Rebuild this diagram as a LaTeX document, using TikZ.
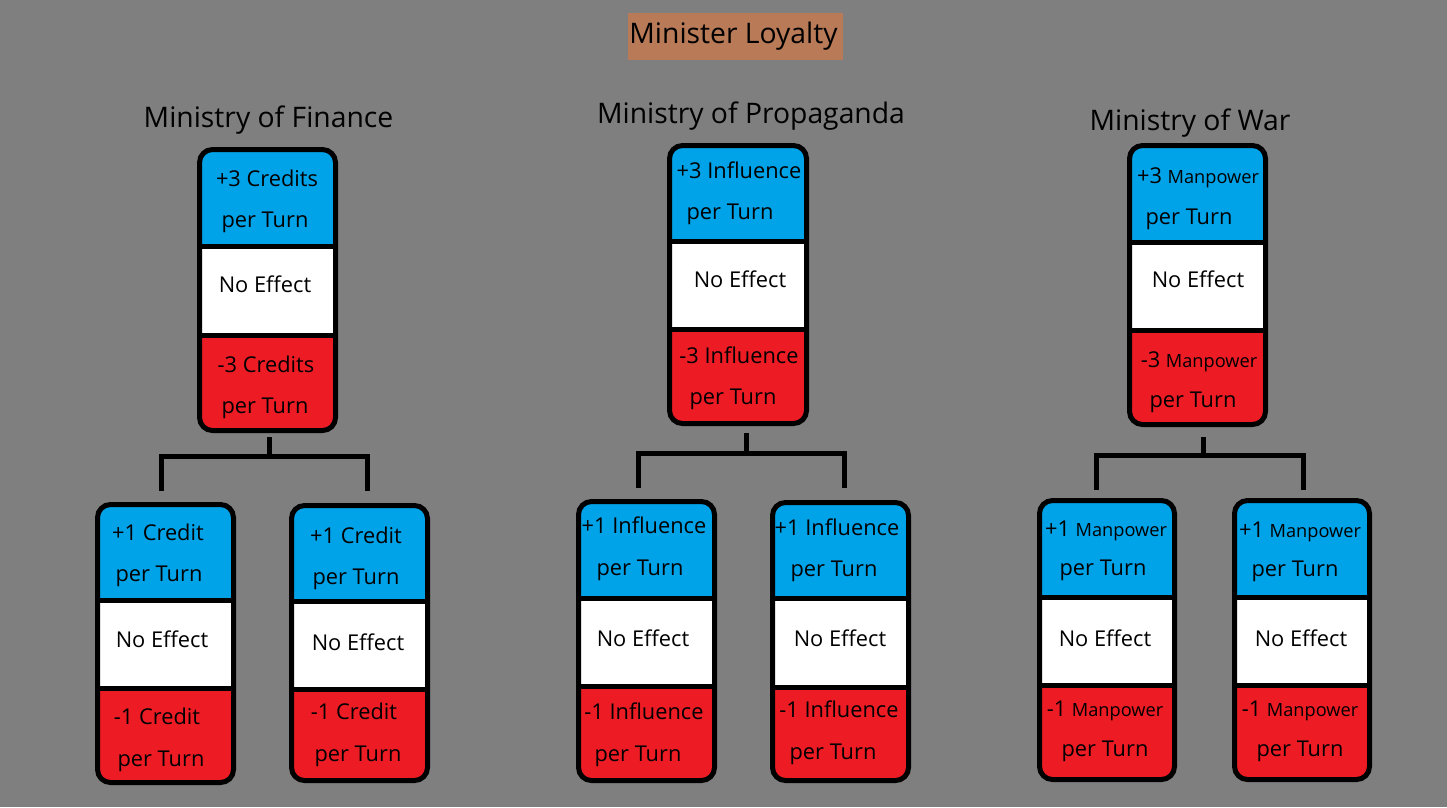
\documentclass[tikz,border=0pt]{standalone}
\usepackage{fontspec}
\setmainfont{Open Sans}
\definecolor{bg}{RGB}{127,127,127}
\definecolor{cblue}{RGB}{0,162,232}
\definecolor{cred}{RGB}{237,28,36}
\definecolor{tbrown}{RGB}{185,122,87}
\newcounter{lnno}
\newcommand\tx[3]{\stepcounter{lnno}\node[txt] (t\arabic{lnno}) at (#1,#2+8) {#3};}
\newcommand\mpw{\fontsize{18.2}{22}\selectfont Manpower}
% \card{name}{x1}{y1}{x2}{y2}{d1}{d2}
\newcommand\card[7]{%
  \begin{scope}
    \clip[rounded corners=13pt] (#2+2.5,#3+2.5) rectangle (#4-2.5,#5-2.5);
    \fill[cblue] (#2,#3) rectangle (#4,#6);
    \fill[white] (#2,#6) rectangle (#4,#7);
    \fill[cred] (#2,#7) rectangle (#4,#5);
  \end{scope}
  \draw[divline] (#2,#6) -- (#4,#6);
  \draw[divline] (#2,#7) -- (#4,#7);
  \node[cardbox, minimum width={#4-#2-5}, minimum height={#5-#3-5}] (#1) at ({(#2+#4)/2},{(#3+#5)/2}) {};
}
\tikzset{
  txt/.style={anchor=base, inner sep=0pt, font=\fontsize{21.8}{26}\selectfont, text=black},
  ttl/.style={anchor=base, inner sep=0pt, font=\fontsize{28.3}{34}\selectfont, text=black},
  divline/.style={line width=5pt, black},
  cardbox/.style={draw=black, line width=5pt, rounded corners=13pt, inner sep=0pt, outer sep=0pt},
  conn/.style={line width=5pt, black, line join=miter}
}
\begin{document}
\begin{tikzpicture}[x=1pt,y=-1pt]
\fill[bg] (0,0) rectangle (1447,807);
\useasboundingbox (0,0) rectangle (1447,807);
% title
\fill[tbrown] (628,13) rectangle (843,60);
\node[anchor=base, inner sep=0pt, font=\fontsize{28.3}{34}\selectfont] (title) at (733.5,43.5) {Minister Loyalty};
% ministry titles
\node[ttl] (fin) at (268.5,127) {Ministry of Finance};
\node[ttl] (prop) at (751,123) {Ministry of Propaganda};
\node[ttl] (war) at (1190,130) {Ministry of War};

% ---------- Finance ----------
\card{fT}{197}{147}{338}{433}{246.5}{335}
\tx{267}{178}{+3 Credits}
\tx{265}{219}{per Turn}
\tx{265}{284}{No Effect}
\tx{266}{364}{-3 Credits}
\tx{265}{405}{per Turn}
\card{fL}{95}{502}{236}{785}{600}{688}
\tx{158}{532}{+1 Credit}
\tx{159}{573}{per Turn}
\tx{162}{639}{No Effect}
\tx{157}{716}{-1 Credit}
\tx{161}{758}{per Turn}
\card{fR}{289}{503}{430}{783}{601}{689}
\tx{356}{535}{+1 Credit}
\tx{356}{576}{per Turn}
\tx{358}{642}{No Effect}
\tx{354}{711}{-1 Credit}
\tx{358}{753}{per Turn}
\coordinate (fS) at (269,437);
\coordinate (fB) at (269,456);
\coordinate (fLe) at (161,491);
\coordinate (fRe) at (367,491);
\draw[conn] (fS) -- (fB);
\draw[conn] (fLe) |- (fB) -| (fRe);

% ---------- Propaganda ----------
\card{pT}{667}{143}{809}{426}{241}{329}
\tx{739}{170}{+3 Influence}
\tx{730}{211}{per Turn}
\tx{740}{279}{No Effect}
\tx{739}{355}{-3 Influence}
\tx{733}{396}{per Turn}
\card{pL}{576}{499}{717}{783}{598}{686}
\tx{644}{525}{+1 Influence}
\tx{640}{567}{per Turn}
\tx{643}{638}{No Effect}
\tx{644}{711}{-1 Influence}
\tx{638}{753}{per Turn}
\card{pR}{770}{500}{911}{783}{598}{687}
\tx{837}{527}{+1 Influence}
\tx{834}{568}{per Turn}
\tx{840}{638}{No Effect}
\tx{839}{709}{-1 Influence}
\tx{833}{751}{per Turn}
\coordinate (pS) at (746,433);
\coordinate (pB) at (746,453);
\coordinate (pLe) at (638,488);
\coordinate (pRe) at (844,488);
\draw[conn] (pS) -- (pB);
\draw[conn] (pLe) |- (pB) -| (pRe);

% ---------- War ----------
\card{wT}{1127}{143}{1268}{427}{242}{330}
\tx{1198}{175}{+3 \mpw}
\tx{1189}{216}{per Turn}
\tx{1198}{279}{No Effect}
\tx{1199}{359}{-3 \mpw}
\tx{1193}{399}{per Turn}
\card{wL}{1037}{498}{1177}{782}{597}{685}
\tx{1106}{528}{+1 \mpw}
\tx{1103}{567}{per Turn}
\tx{1105}{638}{No Effect}
\tx{1105}{708}{-1 \mpw}
\tx{1105}{748}{per Turn}
\card{wR}{1232}{498}{1372}{782}{597}{685}
\tx{1300}{529}{+1 \mpw}
\tx{1295}{568}{per Turn}
\tx{1301}{638}{No Effect}
\tx{1300}{708}{-1 \mpw}
\tx{1300}{748}{per Turn}
\coordinate (wS) at (1203,437);
\coordinate (wB) at (1203,455);
\coordinate (wLe) at (1096,490);
\coordinate (wRe) at (1303,490);
\draw[conn] (wS) -- (wB);
\draw[conn] (wLe) |- (wB) -| (wRe);
\end{tikzpicture}
\end{document}
